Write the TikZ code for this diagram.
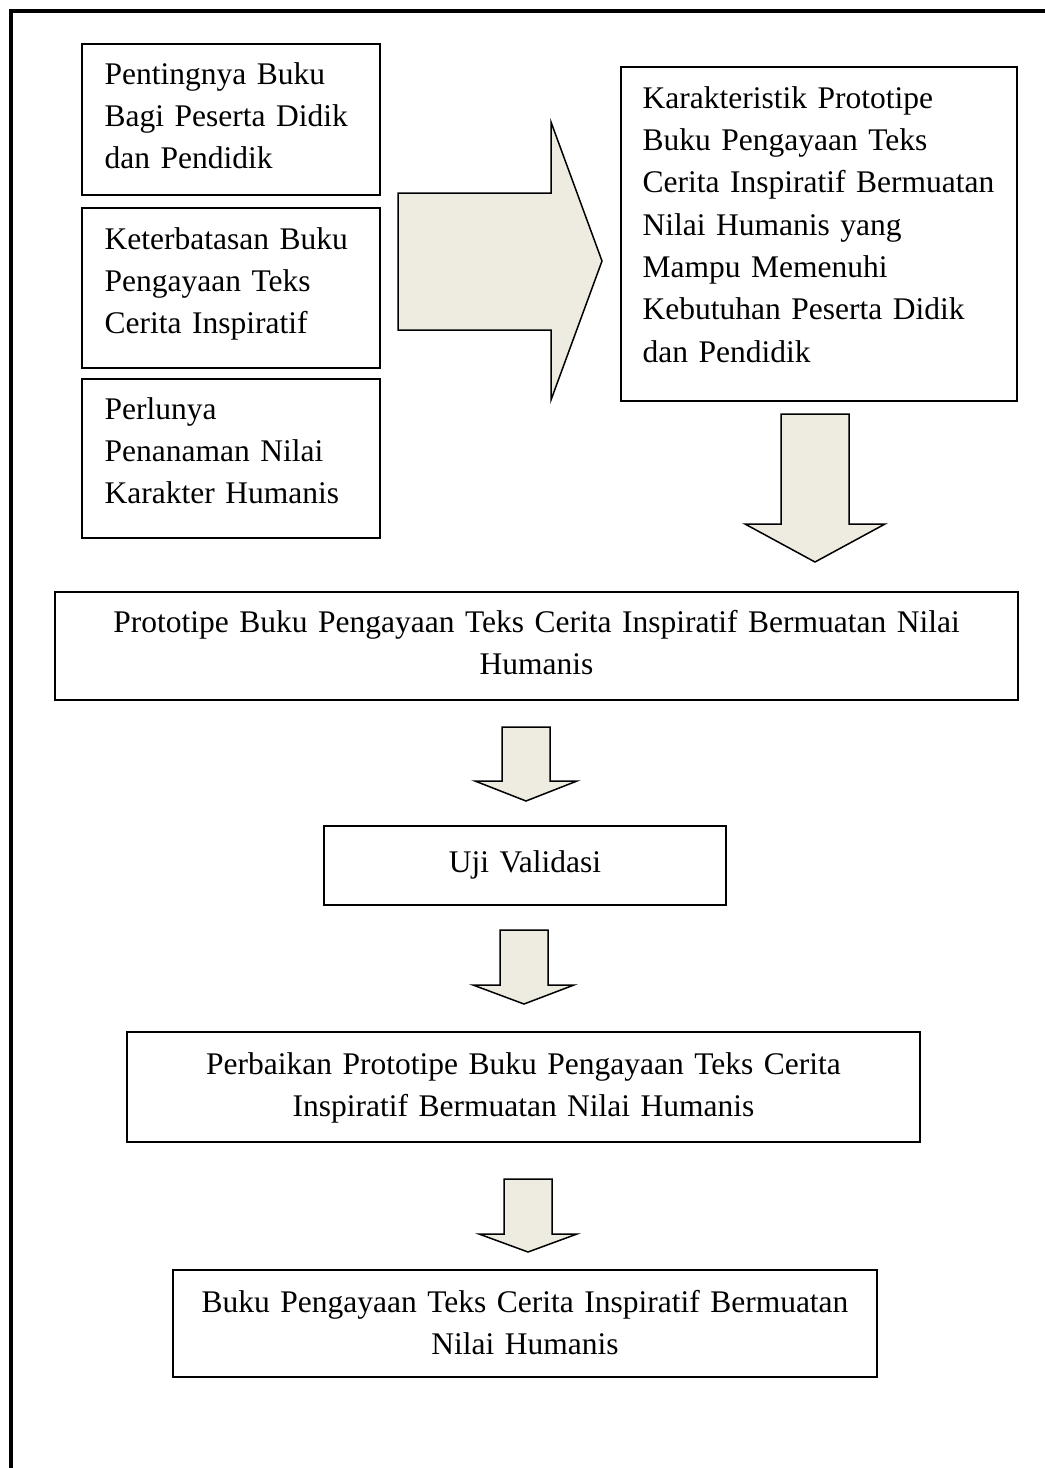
\documentclass[tikz,border=0pt]{standalone}
\usepackage{fontspec}
\setmainfont{Liberation Serif}
\usetikzlibrary{fit}
\definecolor{arrowfill}{HTML}{EEECE1}
\begin{document}
\begin{tikzpicture}[x=0.3pt,y=-0.3pt,
  box/.style={draw=black, line width=0.6pt, inner sep=0pt, fill=white},
  txtl/.style={inner sep=0pt, text width=#1, align=left, anchor=base west,
     font=\fontsize{9.45}{12.7}\selectfont},
  txtc/.style={inner sep=0pt, text width=#1, align=center, anchor=base,
     font=\fontsize{9.45}{12.7}\selectfont},
  blockarrow/.style={draw=black, line width=0.45pt, fill=arrowfill, line join=miter}]
\useasboundingbox (0,0) rectangle (1045,1468);
% outer frame (only left and top edges visible)
\draw[line width=1.2pt] (11,1470) -- (11,11) -- (1047,11);

% top-left boxes
\node[box, fit={(82,44) (380,195)}] (A) {};
\node[txtl=100pt] (tA) at (104,84) {Pentingnya Buku\\Bagi Peserta Didik\\dan Pendidik};
\node[box, fit={(82,208) (380,368)}] (B) {};
\node[txtl=100pt] (tB) at (104,249) {Keterbatasan Buku\\Pengayaan Teks\\Cerita Inspiratif};
\node[box, fit={(82,379) (380,538)}] (C) {};
\node[txtl=100pt] (tC) at (104,419) {Perlunya\\Penanaman Nilai\\Karakter Humanis};

% right box
\node[box, fit={(621,67) (1017,401)}] (D) {};
\node[txtl=130pt] (tD) at (642,108) {Karakteristik Prototipe\\Buku Pengayaan Teks\\Cerita Inspiratif Bermuatan\\Nilai Humanis yang\\Mampu Memenuhi\\Kebutuhan Peserta Didik\\dan Pendidik};

% big right arrow
\draw[blockarrow] (398,193) -- (551,193) -- (551,122) -- (602,261) -- (551,400) -- (551,330) -- (398,330) -- cycle;

% down arrow 1
\draw[blockarrow] (781,414) -- (849,414) -- (849,524) -- (885,524) -- (815,562) -- (745,524) -- (781,524) -- cycle;

% box E
\node[box, fit={(55,592) (1018,700)}] (E) {};
\node[txtc=280pt] (tE) at (536.5,632) {Prototipe Buku Pengayaan Teks Cerita Inspiratif Bermuatan Nilai\\Humanis};

% down arrow 2
\draw[blockarrow] (502,727) -- (550,727) -- (550,781) -- (577,781) -- (526,801) -- (475,781) -- (502,781) -- cycle;

% box F
\node[box, fit={(324,826) (726,905)}] (F) {};
\node[txtc=110pt] (tF) at (525,872) {Uji Validasi};

% down arrow 3
\draw[blockarrow] (500,930) -- (548,930) -- (548,985) -- (574,985) -- (524,1004) -- (473,985) -- (500,985) -- cycle;

% box G
\node[box, fit={(127,1032) (920,1142)}] (G) {};
\node[txtc=230pt] (tG) at (523.5,1074) {Perbaikan Prototipe Buku Pengayaan Teks Cerita\\Inspiratif Bermuatan Nilai Humanis};

% down arrow 4
\draw[blockarrow] (504,1179) -- (552,1179) -- (552,1234) -- (577,1234) -- (528,1252) -- (479,1234) -- (504,1234) -- cycle;

% box H
\node[box, fit={(173,1270) (877,1377)}] (H) {};
\node[txtc=200pt] (tH) at (525,1312) {Buku Pengayaan Teks Cerita Inspiratif Bermuatan\\Nilai Humanis};
\end{tikzpicture}
\end{document}
